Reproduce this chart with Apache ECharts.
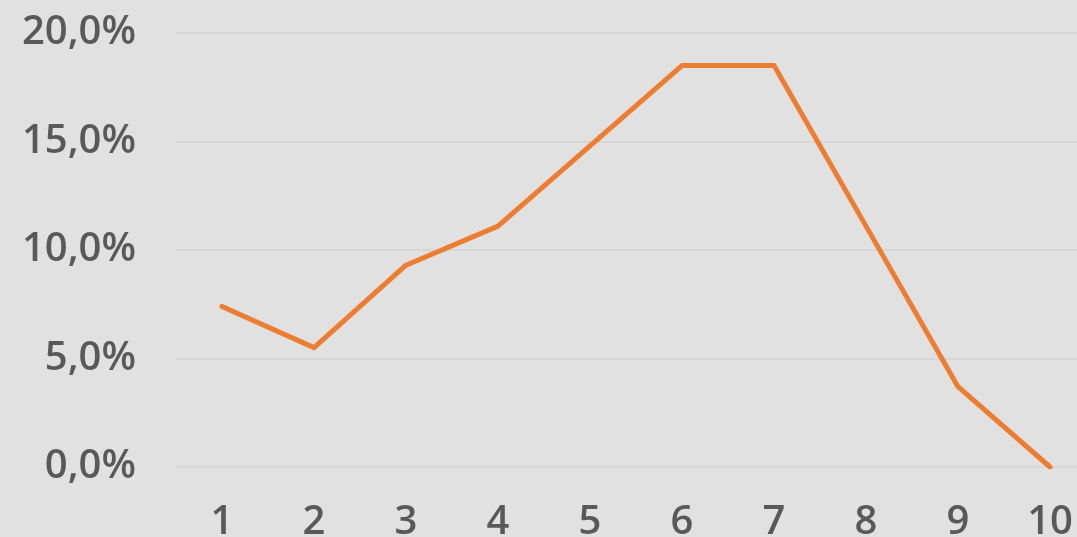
<!DOCTYPE html>
<html>
<head>
<meta charset="utf-8">
<script src="https://cdn.jsdelivr.net/npm/echarts@6/dist/echarts.min.js"></script>
<style>
  html, body { margin: 0; padding: 0; background: #e1e1e1; }
  #chart { width: 1077px; height: 537px; }
</style>
</head>
<body>
<div id="chart"></div>
<script>
const categories = ['1', '2', '3', '4', '5', '6', '7', '8', '9', '10'];
const shareValues = [7.4, 5.5, 9.3, 11.1, 14.8, 18.5, 18.5, 11.1, 3.7, 0];
const yTicks = [0, 5, 10, 15, 20];

const chart = echarts.init(document.getElementById('chart'));

const fmtPct = v => v.toFixed(1).replace('.', ',') + '%';

chart.setOption({
  backgroundColor: '#e1e1e1',
  animation: false,
  grid: { left: 176, width: 920, top: 33, height: 434, outerBoundsMode: 'none', containLabel: false },
  xAxis: {
    type: 'category',
    data: categories,
    boundaryGap: true,
    axisLine: { show: false },
    axisTick: { show: false },
    axisLabel: {
      margin: 36,
      color: '#595959',
      fontFamily: 'Open Sans',
      fontWeight: 600,
      fontSize: 40
    }
  },
  yAxis: {
    type: 'value',
    min: yTicks[0],
    max: yTicks[yTicks.length - 1],
    interval: 5,
    axisLine: { show: false },
    axisTick: { show: false },
    splitLine: { lineStyle: { color: '#d6d6d6', width: 2 } },
    axisLabel: {
      margin: 40,
      color: '#595959',
      fontFamily: 'Open Sans',
      fontWeight: 600,
      fontSize: 40,
      formatter: fmtPct
    }
  },
  series: [{
    type: 'line',
    data: shareValues,
    symbol: 'none',
    lineStyle: { color: '#ed7d31', width: 5, cap: 'round', join: 'round' }
  }]
});
</script>
</body>
</html>
